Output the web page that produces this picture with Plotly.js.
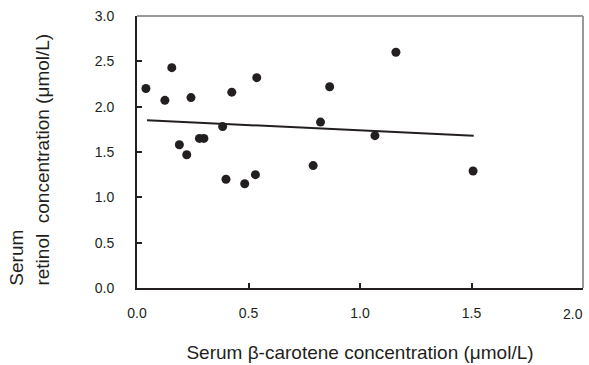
<!DOCTYPE html>
<html>
<head>
<meta charset="utf-8">
<script src="https://cdn.plot.ly/plotly-3.0.1.min.js"></script>
<style>html,body{margin:0;padding:0;background:#fff;}#chart{width:589px;height:365px;}</style>
</head>
<body>
<div id="chart"></div>
<script>
// Serum beta-carotene (umol/L) vs serum retinol (umol/L)
const betaCarotene = [0.040, 0.125, 0.156, 0.190, 0.223, 0.242, 0.280, 0.300, 0.384, 0.399, 0.425, 0.483, 0.531, 0.537, 0.790, 0.823, 0.864, 1.067, 1.161, 1.507];
const retinol      = [2.20, 2.07, 2.43, 1.58, 1.47, 2.10, 1.65, 1.65, 1.78, 1.20, 2.16, 1.15, 1.25, 2.32, 1.35, 1.83, 2.22, 1.68, 2.60, 1.29];
// Regression line endpoints as drawn
const fitX = [0.045, 1.51];
const fitY = [1.85, 1.68];
const xTicks = [0, 0.5, 1.0, 1.5, 2.0];
const xTickText = ['0.0', '0.5', '1.0', '1.5', '2.0'];
const yTicks = [0, 0.5, 1.0, 1.5, 2.0, 2.5, 3.0];
const yTickText = ['0.0', '0.5', '1.0', '1.5', '2.0', '2.5', '3.0'];

const font = 'Liberation Sans, Arial, sans-serif';
const ink = '#231f20';
const lastIdx = xTicks.length - 1;

const traces = [
  {x: fitX, y: fitY, mode: 'lines', line: {color: ink, width: 2}, hoverinfo: 'skip', showlegend: false},
  {x: betaCarotene, y: retinol, mode: 'markers', marker: {color: ink, size: 9}, showlegend: false}
];

const layout = {
  width: 589, height: 365,
  margin: {l: 137, r: 6, t: 16, b: 77},
  paper_bgcolor: '#fff', plot_bgcolor: '#fff',
  font: {family: font, color: ink, size: 14},
  showlegend: false,
  xaxis: {
    range: [0, 2], tickvals: xTicks,
    ticktext: xTickText.map((t, i) => i === lastIdx ? ' ' : t),
    showgrid: false, zeroline: false,
    showline: true, linecolor: ink, linewidth: 2,
    ticks: 'inside', ticklen: 5, tickwidth: 2, tickcolor: ink,
    ticklabelstandoff: 11,
    tickfont: {family: font, size: 14, color: ink},
    title: {text: 'Serum β-carotene concentration (μmol/L)', font: {family: font, size: 19, color: ink}, standoff: 26}
  },
  yaxis: {
    range: [0, 3], tickvals: yTicks, ticktext: yTickText,
    showgrid: false, zeroline: false,
    showline: true, linecolor: ink, linewidth: 2,
    ticks: 'inside', ticklen: 5, tickwidth: 2, tickcolor: ink,
    ticklabelstandoff: 18,
    tickfont: {family: font, size: 14, color: ink}
  },
  shapes: [
    {type: 'line', xref: 'paper', yref: 'paper', x0: 0, x1: 1, y0: 1, y1: 1, line: {color: '#999', width: 2}},
    {type: 'line', xref: 'paper', yref: 'paper', x0: 1, x1: 1, y0: 0, y1: 1, line: {color: '#999', width: 2}}
  ],
  annotations: [
    {text: xTickText[lastIdx], xref: 'x', yref: 'paper', x: xTicks[lastIdx], y: 0, xanchor: 'right', yanchor: 'top',
     xshift: 2, yshift: -16, showarrow: false, font: {family: font, size: 14, color: ink}},
    {text: 'Serum', xref: 'paper', yref: 'paper', x: -0.272, y: 0.0, xanchor: 'center', yanchor: 'bottom',
     textangle: -90, showarrow: false, font: {family: font, size: 19, color: ink}},
    {text: 'retinol  concentration (μmol/L)', xref: 'paper', yref: 'paper', x: -0.214, y: 0.0, xanchor: 'center', yanchor: 'bottom',
     textangle: -90, showarrow: false, font: {family: font, size: 19, color: ink}}
  ]
};

Plotly.newPlot('chart', traces, layout, {displayModeBar: false, staticPlot: true});
</script>
</body>
</html>
